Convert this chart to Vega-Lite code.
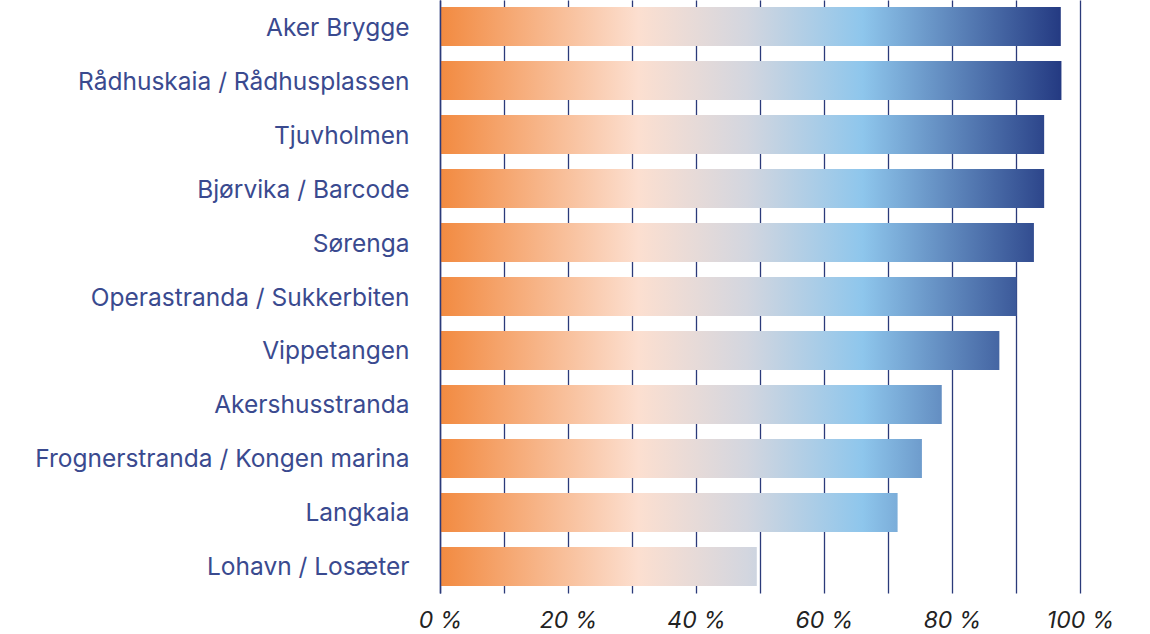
{
  "$schema": "https://vega.github.io/schema/vega-lite/v6.json",
  "width": 640,
  "height": 593,
  "autosize": {"type": "none"},
  "padding": {"left": 440, "top": 0, "right": 70, "bottom": 41},
  "background": "white",
  "config": {"view": {"stroke": null}},
  "data": {"values": [
    {"sted": "Aker Brygge", "andel": 97.0},
    {"sted": "Rådhuskaia / Rådhusplassen", "andel": 97.1},
    {"sted": "Tjuvholmen", "andel": 94.4},
    {"sted": "Bjørvika / Barcode", "andel": 94.4},
    {"sted": "Sørenga", "andel": 92.8},
    {"sted": "Operastranda / Sukkerbiten", "andel": 90.1},
    {"sted": "Vippetangen", "andel": 87.4},
    {"sted": "Akershusstranda", "andel": 78.4},
    {"sted": "Frognerstranda / Kongen marina", "andel": 75.3},
    {"sted": "Langkaia", "andel": 71.5},
    {"sted": "Lohavn / Losæter", "andel": 49.5}
  ]},
  "mark": {
    "type": "bar",
    "fill": {"expr": "{gradient: 'linear', x1: 0, y1: 0, x2: 100 / datum.andel, y2: 0, stops: [{offset: 0, color: '#f28a40'}, {offset: 0.31, color: '#fcdfd0'}, {offset: 0.48, color: '#d3d6df'}, {offset: 0.66, color: '#8ec6ec'}, {offset: 0.97, color: '#243a82'}, {offset: 1, color: '#223780'}]}"}
  },
  "encoding": {
    "y": {
      "field": "sted",
      "type": "nominal",
      "sort": null,
      "title": null,
      "scale": {"paddingInner": 0.278, "paddingOuter": 0.13},
      "axis": {
        "ticks": false,
        "domain": true,
        "domainColor": "#2b3a7a",
        "domainWidth": 1.5,
        "zindex": 1,
        "labelFont": "Inter",
        "labelFontSize": 24.5,
        "labelColor": "#3a4a8f",
        "labelPadding": 31,
        "labelOffset": 2,
        "labelLimit": 500
      }
    },
    "x": {
      "field": "andel",
      "type": "quantitative",
      "title": null,
      "scale": {"domain": [0, 100], "nice": false},
      "axis": {
        "values": [0, 10, 20, 30, 40, 50, 60, 70, 80, 90, 100],
        "labelExpr": "datum.value % 20 == 0 ? datum.value + ' %' : ''",
        "grid": true,
        "gridColor": "#2b3a7a",
        "gridWidth": 1.3,
        "gridOpacity": 1,
        "ticks": false,
        "domain": false,
        "labelFont": "Inter",
        "labelFontStyle": "italic",
        "labelFontSize": 23,
        "labelColor": "#222222",
        "labelBaseline": "middle",
        "labelPadding": 27,
        "labelFlush": false,
        "labelOverlap": false
      }
    }
  }
}
